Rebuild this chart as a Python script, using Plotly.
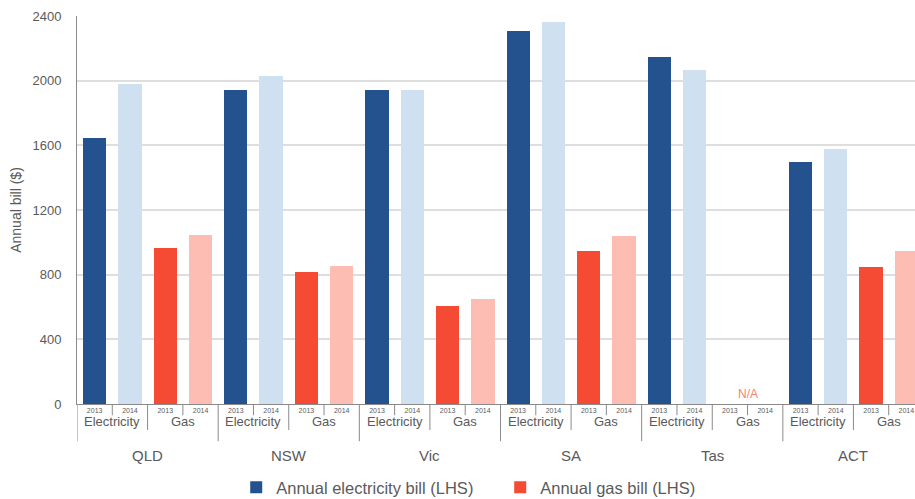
import plotly.graph_objects as go

states = ["QLD", "NSW", "Vic", "SA", "Tas", "ACT"]
fuels = ["Electricity", "Gas"]
years = ["2013", "2014"]

elec_2013 = [1643, 1940, 1940, 2307, 2144, 1495]
elec_2014 = [1977, 2028, 1940, 2362, 2067, 1577]
gas_2013 = [968, 819, 609, 945, None, 846]
gas_2014 = [1044, 852, 650, 1038, None, 945]

y_ticks = [0, 400, 800, 1200, 1600, 2000, 2400]

C_E13 = "#23528f"
C_E14 = "#cfe0f0"
C_G13 = "#f54a33"
C_G14 = "#fdbdb3"
TXT = "#5a5a5a"
FONT = "Liberation Sans, Arial, sans-serif"

n_fuel = len(fuels)
n_year = len(years)
group = n_fuel * n_year

def pos(si, fi, yi):
    return si * group + fi * n_year + yi

fig = go.Figure()
series = [
    (elec_2013, 0, 0, C_E13, "Annual electricity bill (LHS)", True, "e"),
    (elec_2014, 0, 1, C_E14, "Annual electricity bill (LHS)", False, "e"),
    (gas_2013, 1, 0, C_G13, "Annual gas bill (LHS)", True, "g"),
    (gas_2014, 1, 1, C_G14, "Annual gas bill (LHS)", False, "g"),
]
for vals, fi, yi, col, name, show, grp in series:
    fig.add_trace(go.Bar(
        x=[pos(si, fi, yi) for si in range(len(states))],
        y=vals, marker_color=col, marker_line_width=0,
        name=name, showlegend=show, legendgroup=grp, width=0.66,
    ))

tickvals = []
ticktext = []
for si in range(len(states)):
    for fi in range(n_fuel):
        for yi in range(n_year):
            tickvals.append(pos(si, fi, yi))
            ticktext.append(years[yi])

shapes = []
total = len(states) * group
for k in range(total + 1):
    xv = k - 0.5
    if k % group == 0:
        y0 = -0.096
    elif k % n_year == 0:
        y0 = -0.067
    else:
        y0 = -0.029
    shapes.append(dict(type="line", xref="x", yref="paper", x0=xv, x1=xv,
                       y0=0, y1=y0, line=dict(color="#8a8a8a", width=1)))

annotations = []
for si, s in enumerate(states):
    for fi, f in enumerate(fuels):
        annotations.append(dict(x=pos(si, fi, 0) + 0.5, y=-0.044, xref="x", yref="paper",
                                text=f, showarrow=False, yanchor="middle",
                                font=dict(size=13, color=TXT, family=FONT)))
    annotations.append(dict(x=pos(si, 0, 0) + 1.5, y=-0.132, xref="x", yref="paper",
                            text=s, showarrow=False, yanchor="middle",
                            font=dict(size=15, color=TXT, family=FONT)))
annotations.append(dict(x=pos(4, 1, 0) + 0.5, y=0.027, xref="x", yref="paper",
                        text="N/A", showarrow=False, yanchor="middle",
                        font=dict(size=12, color="#f6826f", family=FONT)))

fig.update_layout(
    width=915, height=499,
    margin=dict(l=77, r=0, t=16, b=94.5, autoexpand=False),
    paper_bgcolor="white", plot_bgcolor="white",
    bargap=0,
    font=dict(family=FONT, color=TXT),
    xaxis=dict(range=[-0.5, 23.245], tickvals=tickvals, ticktext=ticktext,
               tickfont=dict(size=7, color=TXT), ticks="", showgrid=False,
               showline=True, linecolor="#8a8a8a", linewidth=1, zeroline=False,
               ticklabelstandoff=0, automargin=False),
    yaxis=dict(range=[0, 2400], tickvals=y_ticks, tickfont=dict(size=13, color=TXT),
               showgrid=True, gridcolor="#dedede", gridwidth=1.5, showline=True,
               linecolor="#8a8a8a", linewidth=1, zeroline=False, ticks="",
               ticklabelstandoff=12, automargin=False,
               title=dict(text="Annual bill ($)", font=dict(size=14, color=TXT), standoff=7)),
    shapes=shapes, annotations=annotations,
    legend=dict(orientation="h", x=0.19, xanchor="left", y=-0.215, yanchor="middle",
                font=dict(size=16.5, color=TXT, family=FONT), traceorder="normal",
                entrywidth=219, itemsizing="constant"),
)

fig.write_html("out.html", config={"displayModeBar": False},
               post_script="document.body.style.margin='0';document.body.style.overflow='hidden';")
